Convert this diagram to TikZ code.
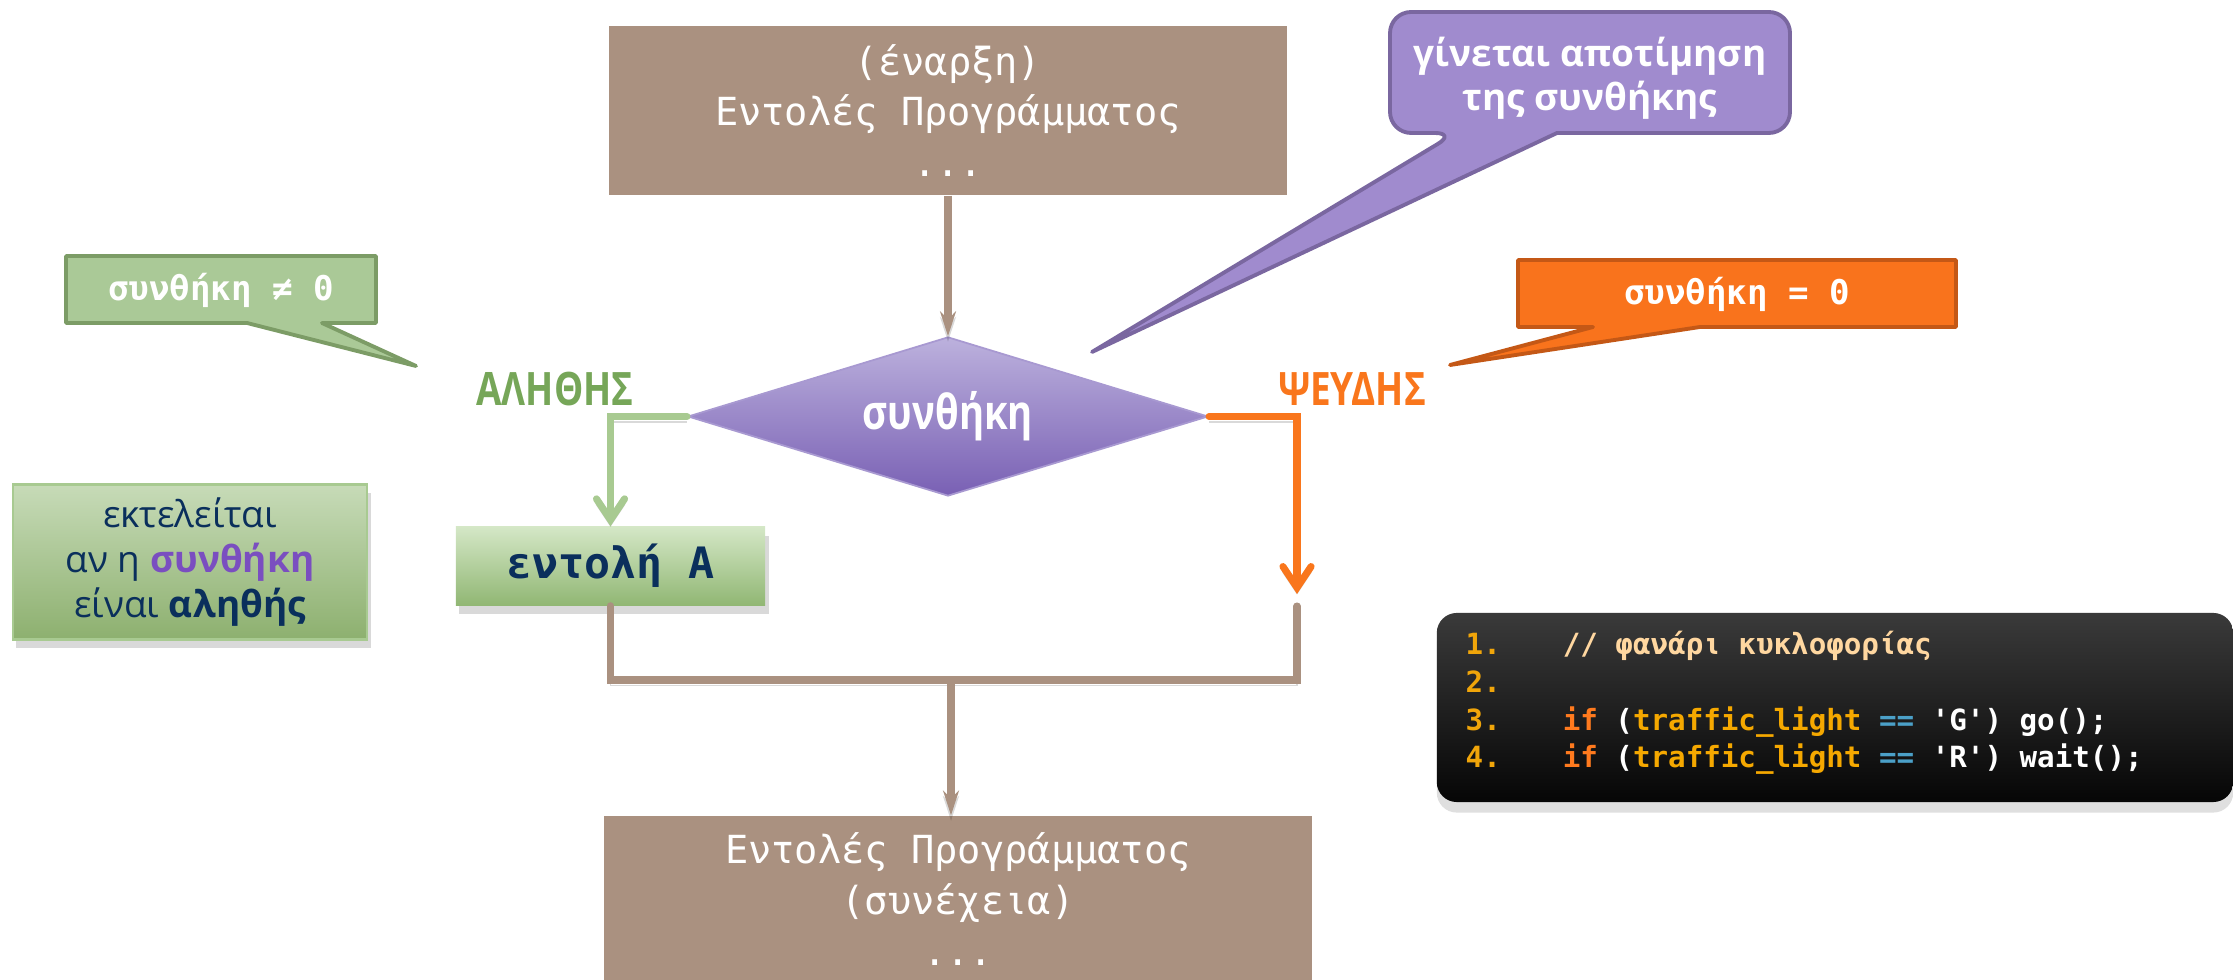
\documentclass[tikz,border=0pt]{standalone}
\usepackage{fontspec}
\setmainfont{Open Sans}
\setmonofont{DejaVu Sans Mono}
\newfontfamily\condfont[FakeStretch=0.8]{Open Sans}
\usetikzlibrary{shapes.geometric,arrows.meta,shadows,positioning}

\definecolor{progbrown}{RGB}{170,145,128}
\definecolor{condtop}{RGB}{188,177,221}
\definecolor{condbot}{RGB}{121,96,180}
\definecolor{trueline}{RGB}{168,202,145}
\definecolor{truetext}{RGB}{118,166,88}
\definecolor{falseline}{RGB}{249,118,28}
\definecolor{navy}{RGB}{10,47,92}
\definecolor{condpurple}{RGB}{122,78,192}
\definecolor{bubblepurple}{RGB}{160,139,206}
\definecolor{bubblepurpleedge}{RGB}{122,103,160}
\definecolor{bubblegreen}{RGB}{170,201,151}
\definecolor{bubblegreenedge}{RGB}{124,156,102}
\definecolor{bubbleorange}{RGB}{249,115,28}
\definecolor{bubbleorangeedge}{RGB}{196,88,22}
\definecolor{cmdtop}{RGB}{212,231,198}
\definecolor{cmdbot}{RGB}{145,183,116}
\definecolor{notetop}{RGB}{199,219,184}
\definecolor{notebot}{RGB}{141,176,111}
\definecolor{codetop}{RGB}{58,58,58}
\definecolor{codebot}{RGB}{6,6,6}
\definecolor{codenum}{RGB}{240,165,10}
\definecolor{codecomment}{RGB}{255,215,160}
\definecolor{codekey}{RGB}{255,122,30}
\definecolor{codevar}{RGB}{245,168,0}
\definecolor{codeop}{RGB}{75,160,200}

\newcommand{\codeno}[1]{\makebox[0.97cm][l]{\textcolor{codenum}{#1}}}

\begin{document}
\begin{tikzpicture}[x=0.01cm, y=-0.01cm,
    progbox/.style={fill=progbrown, text=white, align=center, inner sep=0pt,
        minimum width=6.78cm, minimum height=1.69cm,
        font=\ttfamily\fontsize{11}{14.4}\selectfont},
    condbox/.style={diamond, aspect=3.27, inner sep=0pt, minimum width=5.2cm,
        minimum height=1.59cm, top color=condtop, bottom color=condbot,
        draw=condtop!70!condbot, line width=0.5pt, text=white,
        font=\condfont\bfseries\fontsize{13.6}{15}\selectfont},
    cmdbox/.style={top color=cmdtop, bottom color=cmdbot, text=navy, inner sep=0pt,
        minimum width=3.09cm, minimum height=0.78cm,
        drop shadow={opacity=0.3, shadow xshift=1pt, shadow yshift=-2.5pt},
        font=\ttfamily\bfseries\fontsize{12.3}{14}\selectfont},
    notebox/.style={top color=notetop, bottom color=notebot, draw=trueline, line width=0.6pt,
        text=navy, align=center, inner sep=0pt, minimum width=3.54cm, minimum height=1.55cm,
        drop shadow={opacity=0.3, shadow xshift=1pt, shadow yshift=-2.5pt},
        font=\fontsize{10.5}{12.8}\selectfont},
    codebox/.style={top color=codetop, bottom color=codebot, rounded corners=0.2cm,
        minimum width=7.96cm, minimum height=1.89cm, inner sep=0pt,
        drop shadow={opacity=0.25, shadow xshift=0pt, shadow yshift=-3pt}},
    codetext/.style={text=white, align=left, inner sep=0pt,
        font=\ttfamily\bfseries\fontsize{8.3}{10.73}\selectfont},
    branchlbl/.style={font=\condfont\bfseries\fontsize{13.1}{15}\selectfont},
    monobubble/.style={text=white, font=\ttfamily\bfseries\fontsize{9.7}{12}\selectfont},
    lineshadow/.style={preaction={draw=black, opacity=0.15, transform canvas={yshift=-1.6pt}}},
    brownline/.style={draw=progbrown, line width=2pt, lineshadow},
    greenline/.style={draw=trueline, line width=2pt, line cap=round, lineshadow},
    orangeline/.style={draw=falseline, line width=2pt, line cap=round, lineshadow},
    browntip/.style={-{Stealth[length=7pt,width=4.5pt]}},
    bendtip/.style={-{Straight Barb[length=6pt,width=8pt,line cap=round]}}]

\useasboundingbox (0,0) rectangle (2233,980);

% program blocks
\node[progbox] (start) at (948,110.5) {(έναρξη)\\Εντολές Προγράμματος\\...};
\node[progbox, minimum width=7.07cm, minimum height=1.66cm] (next) at (958,899) {Εντολές Προγράμματος\\(συνέχεια)\\...};

% decision
\node[condbox] (cond) at (948,416.5) {\raisebox{-3pt}{συνθήκη}};
\node[cmdbox] (cmdA) at (610.5,566) {εντολή A};

\node[branchlbl, text=truetext] (truelbl) at (555,389) {ΑΛΗΘΗΣ};
\node[branchlbl, text=falseline] (falselbl) at (1352,389) {ΨΕΥΔΗΣ};

\coordinate (fdrop) at (1297,594);
\coordinate (fjoin) at (1297,606);
\coordinate (merge) at (951,680);

\draw[brownline, browntip] (start.south) -- (cond.north);
\draw[greenline, bendtip] (cond.west) -| (cmdA.north);
\draw[orangeline, bendtip] (cond.east) -| (fdrop);
\draw[brownline, line cap=round] (cmdA.south) |- (fjoin |- merge) -- (fjoin);
\draw[brownline, browntip] (merge) -- (merge |- next.north);

% callouts
\draw[fill=bubblegreen, draw=bubblegreenedge, line width=1.1pt, line join=round]
    (66,256) -- (376,256) -- (376,323) -- (322,323) -- (416,366) -- (247,323) -- (66,323) -- cycle;
\node[monobubble] (neq) at (221,290) {συνθήκη ≠ 0};

\draw[fill=bubbleorange, draw=bubbleorangeedge, line width=1.1pt, line join=round]
    (1518,260) -- (1956,260) -- (1956,327) -- (1700,327) -- (1450,365) -- (1593,327) -- (1518,327) -- cycle;
\node[monobubble] (eqz) at (1737,294) {συνθήκη = 0};

\draw[fill=bubblepurple, draw=bubblepurpleedge, line width=1.1pt, line join=round]
    (1456,133) -- (1092,352) -- (1557,133) [rounded corners=6pt] -- (1790,133) -- (1790,12) -- (1390,12) -- (1390,133) -- cycle;
\node[text=white, align=center, font=\bfseries\fontsize{10.5}{12.4}\selectfont] (evalnote) at (1590,78) {γίνεται αποτίμηση\\της συνθήκης};

% side note
\node[notebox] (note) at (190,562) {εκτελείται\\αν η \textbf{\textcolor{condpurple}{συνθήκη}}\\είναι \textbf{αληθής}};

% code
\node[codebox] (code) at (1835,707.5) {};
\node[codetext, anchor=west] (codetxt) at (1465,703) {%
\codeno{1.}\textcolor{codecomment}{// φανάρι κυκλοφορίας}\\
\codeno{2.}\\
\codeno{3.}\textcolor{codekey}{if} (\textcolor{codevar}{traffic\_light} \textcolor{codeop}{==} 'G') go();\\
\codeno{4.}\textcolor{codekey}{if} (\textcolor{codevar}{traffic\_light} \textcolor{codeop}{==} 'R') wait();};

\end{tikzpicture}
\end{document}
